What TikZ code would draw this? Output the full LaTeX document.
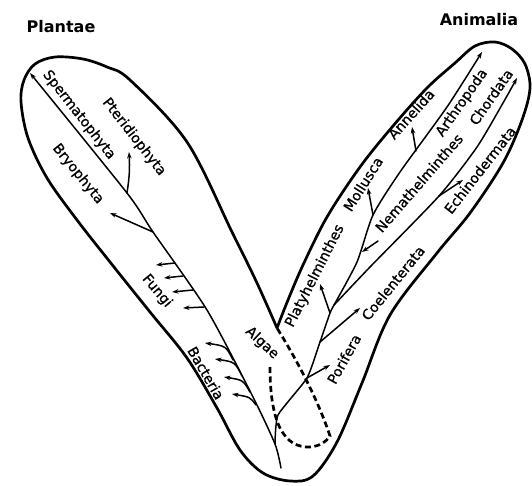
\documentclass[tikz,border=0pt]{standalone}
\usepackage{fontspec}
\setmainfont{DejaVu Sans}
\newfontfamily\lblfont[FakeBold=0.9]{DejaVu Sans}
\usetikzlibrary{arrows.meta}
\begin{document}
\begin{tikzpicture}[x=1pt,y=-1pt,
  outline/.style={line width=2.7pt,line join=round,line cap=round},
  branch/.style={line width=1.5pt,line cap=round,line join=round},
  arr/.style={branch,-{Stealth[length=6.5pt,width=4.5pt]}},
  dashline/.style={line width=2.7pt,dash pattern=on 6pt off 3.5pt},
  lbl/.style={font=\lblfont\fontsize{14}{16}\selectfont,inner sep=0pt},
  ttl/.style={font=\fontsize{16}{19}\selectfont\bfseries,inner sep=0pt}]
\useasboundingbox (0,0) rectangle (532,486);
\fill[white] (0,0) rectangle (532,486);

% ---------- outline ----------
\coordinate (notch) at (277,328);
\draw[outline] plot[smooth,tension=0.55] coordinates {
 (notch) (257,283) (232,232) (187,142) (130,80) (107,67) (83,59) (55,57)
 (35,64) (24,80) (21,102) (28,138) (47,178) (77,220) (110,262) (150,312)
 (187,358) (217,408) (240,450) (263,473) (290,481) (313,476) (337,442)
 (362,383) (390,315) (437,253) (470,213) (503,163) (522,120) (530,88)
 (525,64) (512,49) (495,42) (475,46) (455,63) (427,88) (393,126) (360,167)
 (327,217) (303,265) (288,300) (notch)};

% ---------- plant tree ----------
\coordinate (root) at (281,468);
\coordinate (fork) at (275,444);
\coordinate (p1) at (253,397);
\coordinate (p2) at (207,310);
\coordinate (p3) at (153,232);
\coordinate (p4) at (127,193);
\coordinate (sperm) at (30,73);
\coordinate (pter) at (129,152);
\coordinate (bryo) at (110,213);
\draw[arr] plot[smooth,tension=0.4] coordinates {(root) (fork) (p1) (p2) (p3) (p4) (sperm)};
\draw[arr] (p4) to[bend right=6] (pter);
\draw[arr] (p3) -- (bryo);

\foreach \i/\bx/\by/\tx/\ty in {1/175/263/156/265, 2/183/276/164/278, 3/193/290/172/292, 4/204/307/183/308}{
  \coordinate (fb\i) at (\bx,\by);
  \coordinate (ft\i) at (\tx,\ty);
  \draw[arr] (fb\i) -- (ft\i);
}
\foreach \i/\bx/\by/\cx/\cy/\tx/\ty in {1/233/360/226/346/205/343, 2/242/376/235/362/215/359, 3/250/392/243/380/224/377, 4/256/405/250/397/232/394}{
  \coordinate (bb\i) at (\bx,\by);
  \coordinate (bt\i) at (\tx,\ty);
  \draw[arr] (bb\i) .. controls (\cx,\cy) .. (bt\i);
}

% ---------- animal tree ----------
\coordinate (a0) at (278,415);
\coordinate (a1) at (307,378);
\coordinate (a2) at (320,342);
\coordinate (a3) at (330,313);
\coordinate (a4) at (334,305);
\coordinate (mol) at (373,215);
\coordinate (arth) at (482,52);
\coordinate (echb) at (439,196);
\coordinate (chord) at (517,78);
\draw[branch] plot[smooth,tension=0.3] coordinates {(fork) (a0) (a1) (a2) (a3) (a4)};
\draw[arr] plot[smooth,tension=0.4] coordinates {(a4) (357,262) (mol) (400,172) (447,107) (arth)};
\draw[arr] plot[smooth,tension=0.4] coordinates {(a4) (370,267) (echb) (477,147) (503,103) (chord)};

\coordinate (porT) at (330,365);
\coordinate (coeT) at (360,308);
\coordinate (plaT) at (320,284);
\coordinate (molT) at (368,188);
\coordinate (annB) at (416,151);
\coordinate (annT) at (412,127);
\coordinate (nemS) at (378,241);
\coordinate (nemT) at (362,252);
\coordinate (echT) at (463,180);
\draw[arr] (a1) -- (porT);
\draw[arr] (a2) -- (coeT);
\draw[arr] (a3) -- (plaT);
\draw[arr] (mol) -- (molT);
\draw[arr] (annB) -- (annT);
\draw[arr] (nemS) -- (nemT);
\draw[arr] (echb) -- (echT);

% ---------- dashed algae line ----------
\coordinate (dstart) at (270,367);
\coordinate (dend) at (330,436);
\draw[dashline] (dstart) .. controls (270,425) and (285,448) .. (310,447)
  .. controls (320,446) and (326,442) .. (dend)
  .. controls (318,400) and (298,362) .. (notch);

% ---------- labels ----------
\node[ttl] (tPl) at (61,27) {Plantae};
\node[ttl] (tAn) at (479,20) {Animalia};
\node[lbl,rotate=-52] (lSp) at (79,115) {Spermatophyta};
\node[lbl,rotate=-52] (lPt) at (134,137) {Pteridiophyta};
\node[lbl,rotate=-51] (lBr) at (78,174) {Bryophyta};
\node[lbl,rotate=-50] (lFu) at (157,291) {Fungi};
\node[lbl,rotate=-60] (lBa) at (206,373) {Bacteria};
\node[lbl,rotate=-43] (lAl) at (262,343) {Algae};
\node[lbl,rotate=63] (lPl) at (315,276) {Platyhelminthes};
\node[lbl,rotate=58] (lMo) at (363,184) {Mollusca};
\node[lbl,rotate=48] (lAn) at (411,114) {Annelida};
\node[lbl,rotate=55] (lAr) at (462,103) {Arthropoda};
\node[lbl,rotate=49] (lNe) at (419,183) {Nemathelminthes};
\node[lbl,rotate=55] (lCh) at (491,97) {Chordata};
\node[lbl,rotate=52] (lEc) at (480,170) {Echinodermata};
\node[lbl,rotate=51] (lCo) at (393,283) {Coelenterata};
\node[lbl,rotate=61] (lPo) at (344,359) {Porifera};
\end{tikzpicture}
\end{document}
